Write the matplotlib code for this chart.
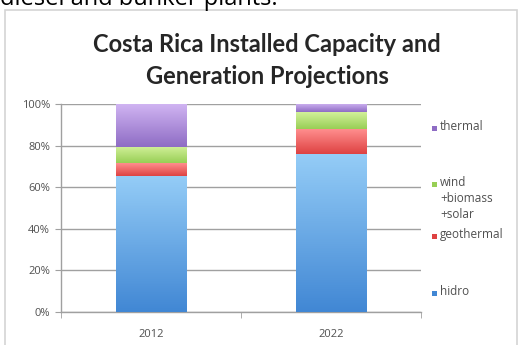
import matplotlib
matplotlib.use("Agg")
import matplotlib.pyplot as plt
import numpy as np
from matplotlib.patches import Rectangle
from matplotlib.colors import LinearSegmentedColormap

years = ['2012', '2022']
hidro = [65.5, 76.0]
geothermal = [6.0, 12.0]
wind = [8.0, 8.0]
thermal = [20.5, 4.0]
series_names = ['hidro', 'geothermal', 'wind\n+biomass\n+solar', 'thermal']
yticks = [0, 20, 40, 60, 80, 100]
ytick_labels = ['0%', '20%', '40%', '60%', '80%', '100%']

# (top colour, bottom colour)
grads = [('#95cdf7', '#4187d4'),
         ('#ff8e8e', '#de4242'),
         ('#d2f09a', '#98cf55'),
         ('#d0b4f2', '#8e6cc4')]

W, H = 524, 345
fig = plt.figure(figsize=(W / 100, H / 100), dpi=100)
fig.patch.set_facecolor('white')

# chart frame
fig.patches.append(Rectangle((5 / W, -0.05), 512 / W, 1.05 - 10 / H,
                             transform=fig.transFigure, fill=False,
                             edgecolor='#d4d4d4', linewidth=1.2))

# text cut off at top
fig.text(0.0, 1 - 5 / H, 'diesel and bunker plants.', fontsize=17,
         family='Open Sans', color='black', va='baseline', ha='left')

ax = fig.add_axes([61 / W, 1 - 312 / H, 360 / W, 208 / H])

x = np.arange(len(years))
width = 0.39
series = [hidro, geothermal, wind, thermal]
bottom = np.zeros(len(years))
for vals, (ctop, cbot) in zip(series, grads):
    vals = np.array(vals)
    bars = ax.bar(x, vals, width, bottom=bottom, color=cbot, linewidth=0, zorder=2)
    cmap = LinearSegmentedColormap.from_list('g', [cbot, ctop])
    grad = np.linspace(0, 1, 256).reshape(-1, 1)
    for b in bars:
        bx, by = b.get_x(), b.get_y()
        bw, bh = b.get_width(), b.get_height()
        im = ax.imshow(grad, cmap=cmap, origin='lower', aspect='auto',
                       extent=[bx, bx + bw, by, by + bh], zorder=3,
                       interpolation='bilinear')
        im.set_clip_path(b)
    bottom += vals

ax.set_xlim(-0.5, 1.5)
ax.set_ylim(0, 100)
ax.set_yticks(yticks)
ax.set_yticklabels(ytick_labels)
ax.set_xticks(x)
ax.set_xticklabels(years)
ax.set_xticks([-0.5, 0.5, 1.5], minor=True)
ax.tick_params(axis='x', which='major', length=0, pad=12, labelsize=8, labelcolor='#505050')
ax.tick_params(axis='x', which='minor', length=4, color='#a0a0a0', direction='out')
ax.tick_params(axis='y', length=4, color='#a0a0a0', direction='out', labelsize=8,
               labelcolor='#505050', pad=4)
for lab in ax.get_xticklabels() + ax.get_yticklabels():
    lab.set_family('Open Sans')
ax.grid(axis='y', color='#a0a0a0', linewidth=1, zorder=0)
ax.set_axisbelow(True)
for s in ['top', 'right']:
    ax.spines[s].set_visible(False)
for s in ['left', 'bottom']:
    ax.spines[s].set_color('#a0a0a0')
    ax.spines[s].set_linewidth(1)

# title
fig.text(267 / W, 1 - 45 / H, 'Costa Rica Installed Capacity and', fontsize=17,
         weight='bold', family='Lato', ha='center', va='center', color='#262626')
fig.text(267 / W, 1 - 77 / H, 'Generation Projections', fontsize=17,
         weight='bold', family='Lato', ha='center', va='center', color='#262626')

# legend (Excel-like placement)
leg_y = {'thermal': 128, 'wind\n+biomass\n+solar': 184, 'geothermal': 236, 'hidro': 293}
for name, (ctop, cbot) in zip(series_names, grads):
    yy = 1 - leg_y[name] / H
    fig.patches.append(Rectangle((432 / W, yy - 2.5 / H), 5 / W, 5 / H,
                                 transform=fig.transFigure, facecolor=cbot,
                                 edgecolor='none'))
    fig.text(440 / W, yy + 8 / H, name, fontsize=8.5, family='Open Sans',
             color='#505050', ha='left', va='top', linespacing=1.3)

fig.savefig('out.png', dpi=100)
